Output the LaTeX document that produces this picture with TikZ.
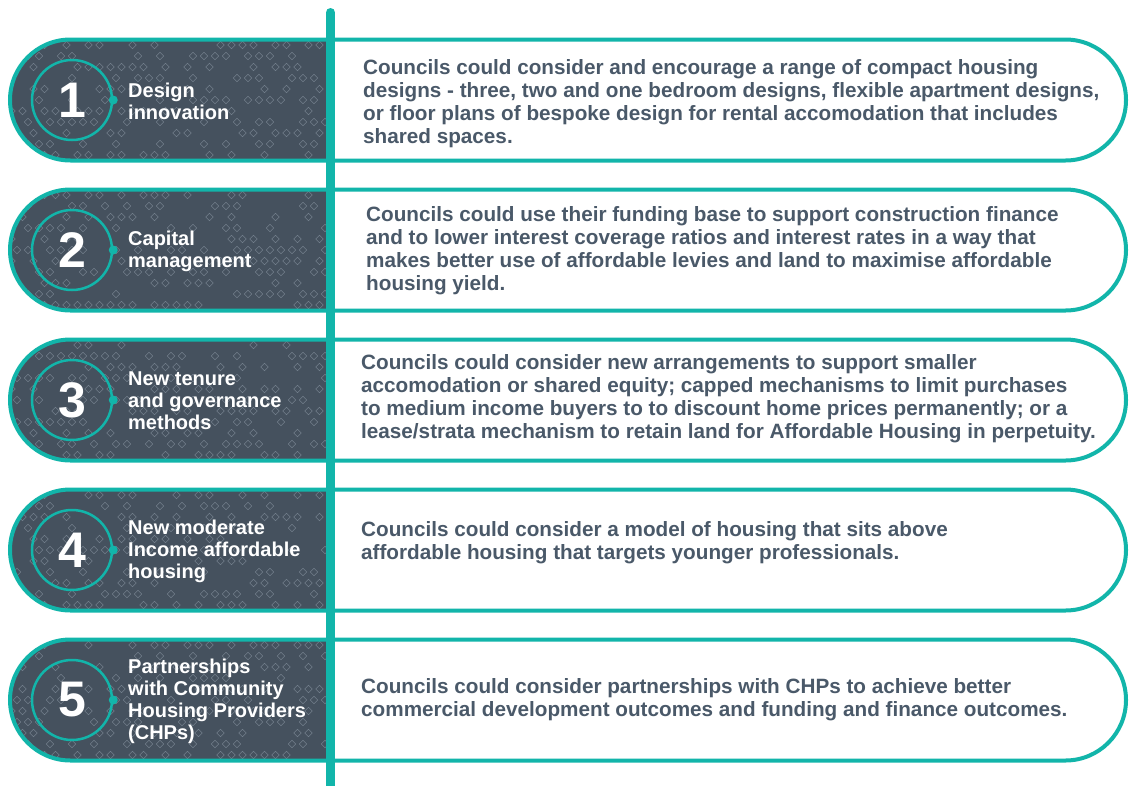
\documentclass[tikz,border=0pt]{standalone}
\usepackage{fontspec}
\setmainfont{Liberation Sans}
\definecolor{tealc}{HTML}{12B5AA}
\definecolor{darkc}{HTML}{45515E}
\definecolor{textc}{HTML}{4A5969}
\definecolor{diac}{HTML}{727F8C}
\tikzset{
  x=1pt,y=1pt,
  border/.style={draw=tealc,line width=4pt},
  dia/.style={draw=diac,line width=0.6pt},
  ring/.style={circle,draw=tealc,line width=2.5pt,minimum size=80pt,inner sep=0pt},
  ringdot/.style={circle,fill=tealc,minimum size=9pt,inner sep=0pt},
  numtxt/.style={text=white,font=\bfseries\fontsize{50}{50}\selectfont,inner sep=0pt},
  labtxt/.style={text=white,font=\bfseries\fontsize{20}{22}\selectfont,align=left,anchor=west,inner sep=0pt},
  bodytxt/.style={text=textc,font=\bfseries\fontsize{20.7}{23}\selectfont,align=left,anchor=west,inner sep=0pt},
  vline/.style={draw=tealc,line width=9pt,line cap=round}
}
\newcommand\rowitem[6]{%
  % #1 number, #2 centre y, #3 label, #4 body text, #5 body dy, #6 body x
  \fill[white] (70.5,#2+60.5) -- (1065.5,#2+60.5) arc[start angle=90,end angle=-90,radius=60.5] -- (70.5,#2-60.5) arc[start angle=270,end angle=90,radius=60.5] -- cycle;
  \begin{scope}
    \clip (331,#2+60.5) -- (70.5,#2+60.5) arc[start angle=90,end angle=270,radius=60.5] -- (331,#2-60.5) -- cycle;
    \fill[darkc] (0,#2+70) rectangle (340,#2-70);
    \foreach \i in {0,...,30}{\foreach \j in {0,...,12}{%
      \pgfmathsetmacro\px{6+11*\i+5.5*mod(\j,2)}%
      \pgfmathsetmacro\py{#2+66-11*\j}%
      \pgfmathtruncatemacro\keep{rnd<0.45 ? 1 : 0}%
      \ifnum\keep=1
        \draw[dia] (\px,\py) +(0,3.8) -- +(3.8,0) -- +(0,-3.8) -- +(-3.8,0) -- cycle;
      \fi
    }}
  \end{scope}
  \node[ring] (circ#1) at (72,#2) {};
  \node[ringdot] (dot#1) at (circ#1.east) {};
  \node[numtxt] (num#1) at (circ#1.center) {#1};
  \node[labtxt] (lab#1) at (128,#2-1) {#3};
  \draw[border] (70.5,#2+60.5) -- (1065.5,#2+60.5) arc[start angle=90,end angle=-90,radius=60.5] -- (70.5,#2-60.5) arc[start angle=270,end angle=90,radius=60.5] -- cycle;
  \node[bodytxt] (txt#1) at (#6,#2-#5) {#4};
}
\begin{document}
\begin{tikzpicture}
\useasboundingbox (0,0) rectangle (1130,-785);
\pgfmathsetseed{11}
\rowitem{1}{-100}{Design\\innovation}{Councils could consider and encourage a range of compact housing\\designs - three, two and one bedroom designs, flexible apartment designs,\\or floor plans of bespoke design for rental accomodation that includes\\shared spaces.}{4}{363}
\rowitem{2}{-250}{Capital\\management}{Councils could use their funding base to support construction finance\\and to lower interest coverage ratios and interest rates in a way that\\makes better use of affordable levies and land to maximise affordable\\housing yield.}{1}{366}
\rowitem{3}{-400}{New tenure\\and governance\\methods}{Councils could consider new arrangements to support smaller\\accomodation or shared equity; capped mechanisms to limit purchases\\to medium income buyers to to discount home prices permanently; or a\\lease/strata mechanism to retain land for Affordable Housing in perpetuity.}{-1}{361}
\rowitem{4}{-550}{New moderate\\Income affordable\\housing}{Councils could consider a model of housing that sits above\\affordable housing that targets younger professionals.}{-7}{361}
\rowitem{5}{-700}{Partnerships\\with Community\\Housing Providers\\(CHPs)}{Councils could consider partnerships with CHPs to achieve better\\commercial development outcomes and funding and finance outcomes.}{0}{361}
\coordinate (vtop) at (330.5,-12.5);
\coordinate (vbot) at (330.5,-790);
\draw[vline] (vtop) -- (vbot);
\end{tikzpicture}
\end{document}
